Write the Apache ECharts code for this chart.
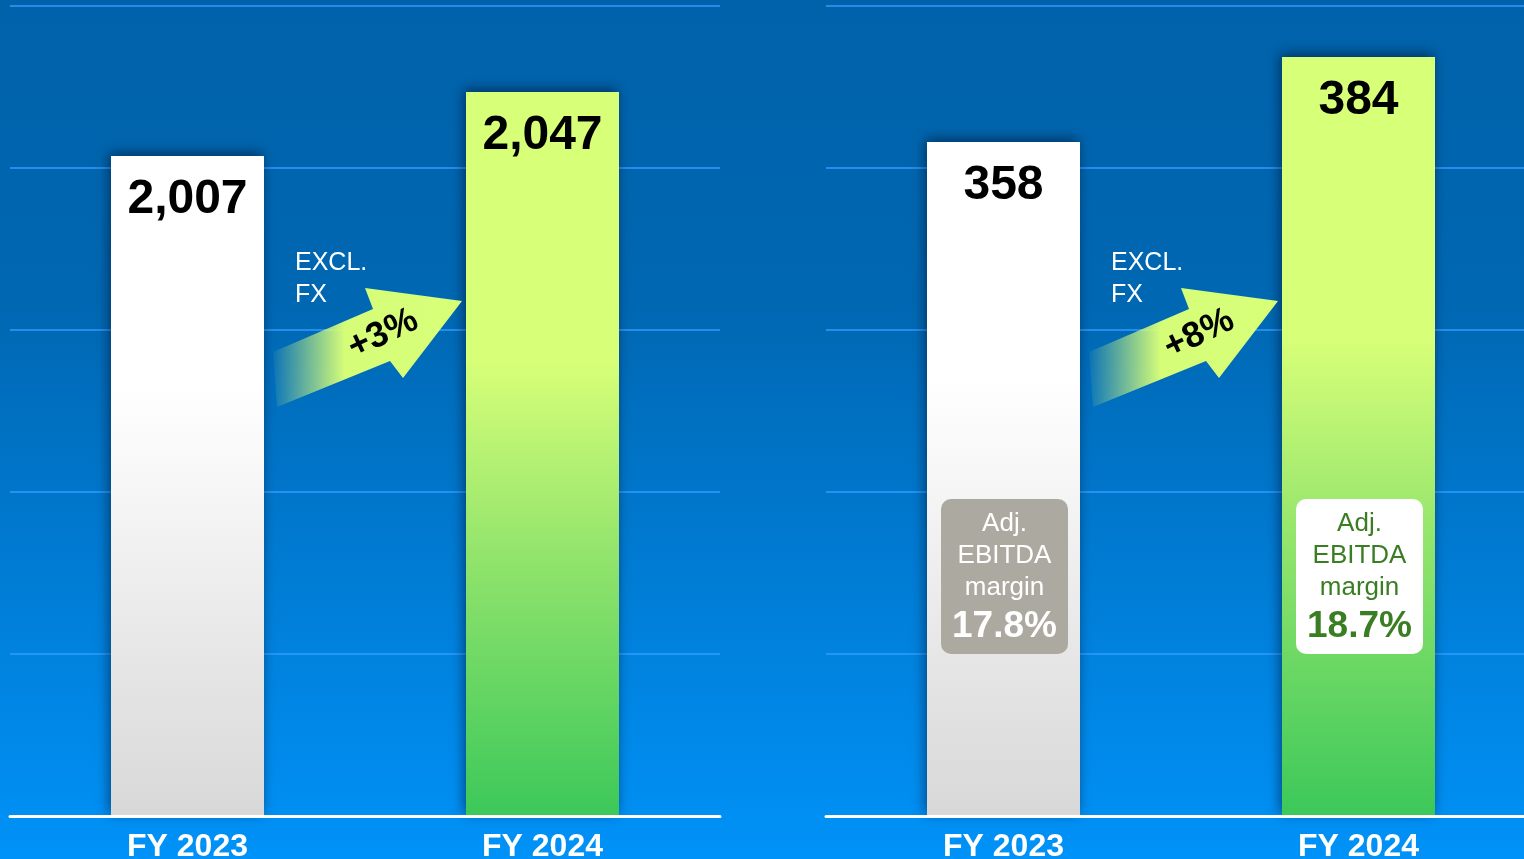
<!DOCTYPE html>
<html>
<head>
<meta charset="utf-8">
<script src="https://cdn.jsdelivr.net/npm/echarts@6/dist/echarts.min.js"></script>
<style>
  html, body { margin: 0; padding: 0; background: #0078d0; }
  #main { width: 1524px; height: 859px; }
</style>
</head>
<body>
<div id="main"></div>
<script>
// data
var years = ['FY 2023', 'FY 2024'];
var sales = [2007, 2047];
var ebitda = [358, 384];
var growth = ['+3%', '+8%'];
var margins = ['17.8%', '18.7%'];
var marginTitle = ['Adj.', 'EBITDA', 'margin'];
var fxNote = ['EXCL.', 'FX'];

var FONT = '"Liberation Sans", Arial, sans-serif';
var BAR_W = 153;

var whiteFill = {
  type: 'linear', x: 0, y: 0, x2: 0, y2: 1,
  colorStops: [
    { offset: 0, color: '#ffffff' },
    { offset: 0.35, color: '#ffffff' },
    { offset: 1, color: '#d8d8d8' }
  ]
};
var greenFill = {
  type: 'linear', x: 0, y: 0, x2: 0, y2: 1,
  colorStops: [
    { offset: 0, color: '#d8ff78' },
    { offset: 0.37, color: '#d8ff78' },
    { offset: 0.64, color: '#92e46c' },
    { offset: 1, color: '#3cc85a' }
  ]
};
var barShadow = { shadowBlur: 12, shadowColor: 'rgba(0,0,20,0.5)', shadowOffsetX: -2, shadowOffsetY: -3 };

function barItems(values) {
  return values.map(function (v, i) {
    return {
      value: v,
      itemStyle: Object.assign({ color: i === 0 ? whiteFill : greenFill }, barShadow)
    };
  });
}

function catAxis(gi) {
  return {
    type: 'category', gridIndex: gi, data: years, z: 10,
    axisLine: { lineStyle: { color: '#ffffff', width: 3 } },
    axisTick: { show: false },
    axisLabel: { color: '#ffffff', fontSize: 32, fontWeight: 'bold', fontFamily: FONT, margin: 15 }
  };
}
function decorAxis(gi) {
  return {
    type: 'value', gridIndex: gi, min: 0, max: 5, interval: 1,
    axisLabel: { show: false }, axisLine: { show: false }, axisTick: { show: false },
    splitLine: { lineStyle: { color: 'rgba(50,155,255,0.75)', width: 2 } }
  };
}
var valueLabel = {
  show: true, position: 'insideTop', distance: 20,
  color: '#000000', fontSize: 48, fontWeight: 'bold', fontFamily: FONT,
  formatter: function (p) { return p.value.toLocaleString('en-US'); }
};

var chart = echarts.init(document.getElementById('main'));
chart.setOption({
  animation: false,
  backgroundColor: {
    type: 'linear', x: 0, y: 0, x2: 0, y2: 1,
    colorStops: [
      { offset: 0, color: '#0062aa' },
      { offset: 0.35, color: '#0067b2' },
      { offset: 1, color: '#0092f8' }
    ]
  },
  grid: [
    { left: 10, width: 710, top: 6, bottom: 43, containLabel: false, outerBoundsMode: 'none' },
    { left: 826, width: 710, top: 6, bottom: 43, containLabel: false, outerBoundsMode: 'none' }
  ],
  xAxis: [catAxis(0), catAxis(1)],
  yAxis: [
    { type: 'value', gridIndex: 0, min: 1594.5, max: 2100.75, show: false },
    decorAxis(0),
    { type: 'value', gridIndex: 1, min: 151.8, max: 399.6, show: false },
    decorAxis(1)
  ],
  series: [
    { type: 'bar', xAxisIndex: 0, yAxisIndex: 0, barWidth: BAR_W, data: barItems(sales), label: valueLabel },
    { type: 'bar', xAxisIndex: 1, yAxisIndex: 2, barWidth: BAR_W, data: barItems(ebitda), label: valueLabel }
  ]
});

// annotations placed from the bar positions
var arrowPts = [[0, 64], [100, 21], [92, 0], [189, 13], [130, 90], [117, 73], [4, 119]];
var arrowFill = {
  type: 'linear', x: 0, y: 0, x2: 1, y2: 0,
  colorStops: [
    { offset: 0, color: 'rgba(216,255,120,0.05)' },
    { offset: 0.38, color: '#d6fd78' },
    { offset: 1, color: '#d8ff78' }
  ]
};
var graphics = [];
[0, 1].forEach(function (gi) {
  var cx = chart.convertToPixel({ xAxisIndex: gi }, years[0]);
  var ax = cx + BAR_W / 2 + 9;
  graphics.push({
    type: 'text', z: 100, x: cx + 107.5, y: 247,
    style: { text: fxNote.join('\n'), fill: '#ffffff', fontSize: 25, fontFamily: FONT, lineHeight: 32, verticalAlign: 'top' }
  });
  graphics.push({
    type: 'group', z: 100, x: ax, y: 288,
    children: [
      { type: 'polygon', z: 100, shape: { points: arrowPts }, style: { fill: arrowFill } },
      { type: 'text', z: 101, x: 110, y: 46, rotation: 0.45,
        style: { text: growth[gi], fill: '#000000', fontSize: 36, fontWeight: 'bold', fontFamily: FONT, align: 'center', verticalAlign: 'middle' } }
    ]
  });
});
// margin boxes on the EBITDA bars
[0, 1].forEach(function (i) {
  var cx = chart.convertToPixel({ xAxisIndex: 1 }, years[i]) + 1;
  var boxFill = i === 0 ? '#aca9a1' : '#ffffff';
  var txt = i === 0 ? '#ffffff' : '#3a7d22';
  var top = 499;
  graphics.push({ type: 'rect', z: 100, shape: { x: cx - 63.5, y: top, width: 127, height: 155, r: 10 }, style: { fill: boxFill } });
  marginTitle.forEach(function (t, k) {
    graphics.push({ type: 'text', z: 101, x: cx, y: top + 25 + k * 32,
      style: { text: t, fill: txt, fontSize: 26, fontFamily: FONT, align: 'center', verticalAlign: 'middle' } });
  });
  graphics.push({ type: 'text', z: 101, x: cx, y: top + 128,
    style: { text: margins[i], fill: txt, fontSize: 37, fontWeight: 'bold', fontFamily: FONT, align: 'center', verticalAlign: 'middle' } });
});
chart.setOption({ graphic: graphics });
</script>
</body>
</html>
